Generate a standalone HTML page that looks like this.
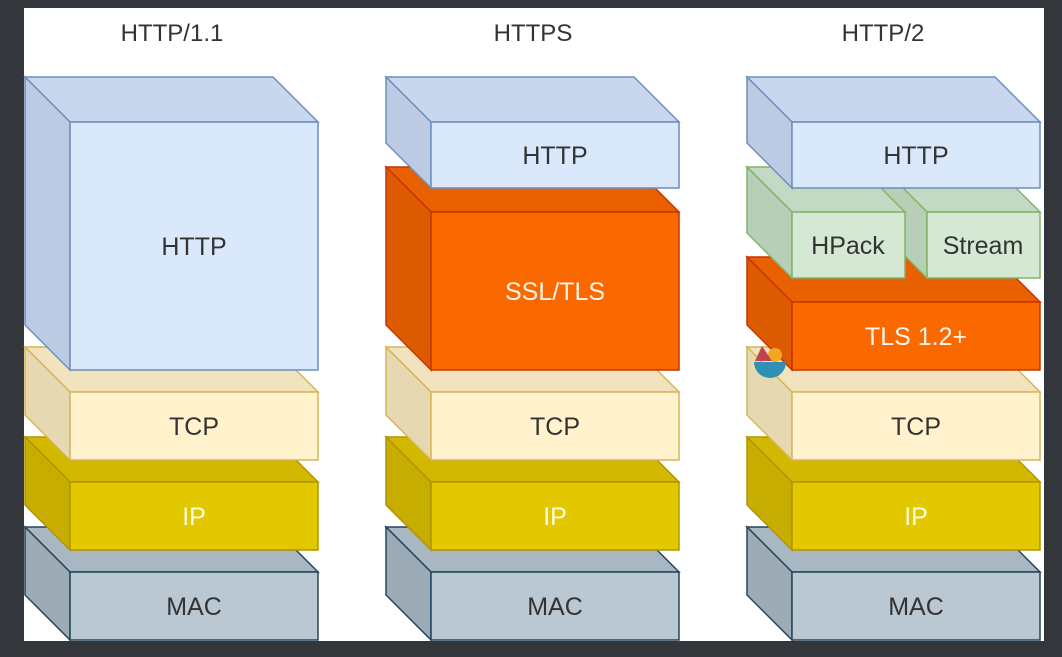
<!DOCTYPE html>
<html><head><style>
html,body{margin:0;padding:0;background:#33373b;}
svg{display:block}
text{font-family:"Liberation Sans",sans-serif;font-size:25px;text-anchor:middle;}
g polygon,g rect{stroke-width:1.5}
.http .f{fill:#dae8fc}.http .t{fill:#c9d7ee}.http .l{fill:#bccbe3}.http *{stroke:#6c8ebf}.http text{fill:#333;stroke:none}
.tcp .f{fill:#fff2cc}.tcp .t{fill:#f0e3bd}.tcp .l{fill:#e6d8b0}.tcp *{stroke:#d6b656}.tcp text{fill:#333;stroke:none}
.ip .f{fill:#e3c800}.ip .t{fill:#d2b800}.ip .l{fill:#c6ad00}.ip *{stroke:#b09500}.ip text{fill:#fffbe0;stroke:none}
.mac .f{fill:#bac8d3}.mac .t{fill:#a9b7c2}.mac .l{fill:#9cabb6}.mac *{stroke:#23445d}.mac text{fill:#333;stroke:none}
.ssl .f{fill:#fa6800}.ssl .t{fill:#e96000}.ssl .l{fill:#dc5a00}.ssl *{stroke:#c73500}.ssl text{fill:#fff4e8;stroke:none}
.hp .f{fill:#d5e8d4}.hp .t{fill:#c4d9c3}.hp .l{fill:#b8cfb7}.hp *{stroke:#82b366}.hp text{fill:#333;stroke:none}
</style></head><body>
<svg width="1062" height="657" viewBox="0 0 1062 657" xmlns="http://www.w3.org/2000/svg">
<rect x="0" y="0" width="1062" height="657" fill="#33373b"/>
<rect x="24" y="8" width="1020" height="633" fill="#ffffff"/>
<text x="172" y="41" style="font-size:24px" fill="#333">HTTP/1.1</text>
<text x="533" y="41" style="font-size:24px" fill="#333">HTTPS</text>
<text x="883" y="41" style="font-size:24px" fill="#333">HTTP/2</text>

<!-- Column 1 -->
<g class="mac"><polygon class="t" points="25,527 273,527 318,572 70,572"/><polygon class="l" points="25,527 70,572 70,640 25,595"/><rect class="f" x="70" y="572" width="248" height="68"/><text x="194" y="615">MAC</text></g>
<g class="ip"><polygon class="t" points="25,437 273,437 318,482 70,482"/><polygon class="l" points="25,437 70,482 70,550 25,505"/><rect class="f" x="70" y="482" width="248" height="68"/><text x="194" y="525">IP</text></g>
<g class="tcp"><polygon class="t" points="25,347 273,347 318,392 70,392"/><polygon class="l" points="25,347 70,392 70,460 25,415"/><rect class="f" x="70" y="392" width="248" height="68"/><text x="194" y="435">TCP</text></g>
<g class="http"><polygon class="t" points="25,77 273,77 318,122 70,122"/><polygon class="l" points="25,77 70,122 70,370 25,325"/><rect class="f" x="70" y="122" width="248" height="248"/><text x="194" y="255">HTTP</text></g>

<!-- Column 2 -->
<g class="mac"><polygon class="t" points="386,527 634,527 679,572 431,572"/><polygon class="l" points="386,527 431,572 431,640 386,595"/><rect class="f" x="431" y="572" width="248" height="68"/><text x="555" y="615">MAC</text></g>
<g class="ip"><polygon class="t" points="386,437 634,437 679,482 431,482"/><polygon class="l" points="386,437 431,482 431,550 386,505"/><rect class="f" x="431" y="482" width="248" height="68"/><text x="555" y="525">IP</text></g>
<g class="tcp"><polygon class="t" points="386,347 634,347 679,392 431,392"/><polygon class="l" points="386,347 431,392 431,460 386,415"/><rect class="f" x="431" y="392" width="248" height="68"/><text x="555" y="435">TCP</text></g>
<g class="ssl"><polygon class="t" points="386,167 634,167 679,212 431,212"/><polygon class="l" points="386,167 431,212 431,370 386,325"/><rect class="f" x="431" y="212" width="248" height="158"/><text x="555" y="300">SSL/TLS</text></g>
<g class="http"><polygon class="t" points="386,77 634,77 679,122 431,122"/><polygon class="l" points="386,77 431,122 431,188 386,143"/><rect class="f" x="431" y="122" width="248" height="66"/><text x="555" y="164">HTTP</text></g>

<!-- Column 3 -->
<g class="mac"><polygon class="t" points="747,527 995,527 1040,572 792,572"/><polygon class="l" points="747,527 792,572 792,640 747,595"/><rect class="f" x="792" y="572" width="248" height="68"/><text x="916" y="615">MAC</text></g>
<g class="ip"><polygon class="t" points="747,437 995,437 1040,482 792,482"/><polygon class="l" points="747,437 792,482 792,550 747,505"/><rect class="f" x="792" y="482" width="248" height="68"/><text x="916" y="525">IP</text></g>
<g class="tcp"><polygon class="t" points="747,347 995,347 1040,392 792,392"/><polygon class="l" points="747,347 792,392 792,460 747,415"/><rect class="f" x="792" y="392" width="248" height="68"/><text x="916" y="435">TCP</text></g>
<g class="ssl"><polygon class="t" points="747,257 995,257 1040,302 792,302"/><polygon class="l" points="747,257 792,302 792,370 747,325"/><rect class="f" x="792" y="302" width="248" height="68"/><text x="916" y="345">TLS 1.2+</text></g>
<g class="hp"><polygon class="t" points="882,167 995,167 1040,212 927,212"/><polygon class="l" points="882,167 927,212 927,278 882,233"/><rect class="f" x="927" y="212" width="113" height="66"/><text x="983" y="254">Stream</text></g>
<g class="hp"><polygon class="t" points="747,167 860,167 905,212 792,212"/><polygon class="l" points="747,167 792,212 792,278 747,233"/><rect class="f" x="792" y="212" width="113" height="66"/><text x="848" y="254">HPack</text></g>
<g class="http"><polygon class="t" points="747,77 995,77 1040,122 792,122"/><polygon class="l" points="747,77 792,122 792,188 747,143"/><rect class="f" x="792" y="122" width="248" height="66"/><text x="916" y="164">HTTP</text></g>

<!-- small emblem -->
<path d="M754,362 A16,16 0 0 0 786,362 Z" fill="#2f8fb5"/>
<circle cx="775" cy="355" r="7" fill="#f5a623"/>
<path d="M755,361 L762,346 L772,361 Z" fill="#c0444c"/>
</svg>
</body></html>
